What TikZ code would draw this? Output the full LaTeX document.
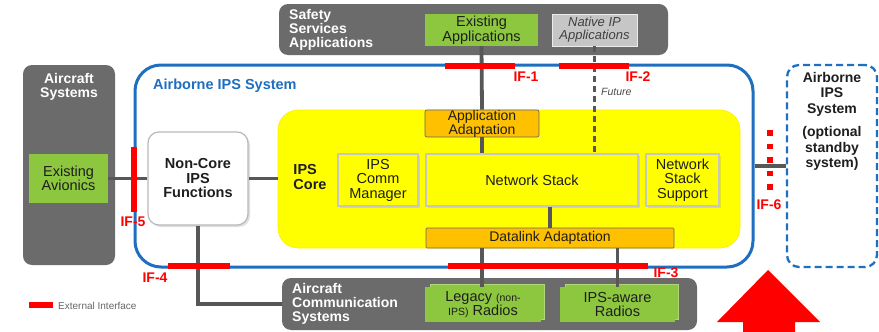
\documentclass[tikz,border=0pt]{standalone}
\usepackage{fontspec}
\setmainfont{Liberation Sans}
\usetikzlibrary{shadows}
\definecolor{sysgray}{HTML}{6B6B6B}
\definecolor{appgreen}{HTML}{8DC63F}
\definecolor{ipsblue}{HTML}{1F6FC0}
\definecolor{coreyellow}{HTML}{FFFF00}
\definecolor{adaptorange}{HTML}{FFC000}
\definecolor{ifred}{HTML}{FF0000}
\definecolor{linegray}{HTML}{575757}
\definecolor{nativegray}{HTML}{C6C6C6}
\definecolor{txtdark}{HTML}{1E1E1E}
\tikzset{
  graybox/.style={fill=sysgray, draw=none, rounded corners=9pt, inner sep=0pt},
  greenbox/.style={fill=appgreen, draw=none, inner sep=0pt, align=center, text=txtdark,
    font=\fontsize{14.5}{13.5}\selectfont},
  greenback/.style={fill=appgreen, draw=appgreen!70!white, line width=0.8pt, inner sep=0pt},
  inbox/.style={fill=coreyellow, draw=gray!45, line width=1.3pt, inner sep=0pt, align=center,
    text=txtdark, font=\fontsize{14.5}{14.5}\selectfont,
    drop shadow={opacity=0.2, shadow xshift=1.5pt, shadow yshift=-1.5pt}},
  orangebox/.style={fill=adaptorange, draw=gray!80!black, line width=0.7pt, rounded corners=2pt,
    inner sep=0pt, align=center, text=txtdark, font=\fontsize{14}{13}\selectfont},
  conn/.style={draw=linegray, line width=3.8pt},
  ifbar/.style={draw=ifred, line width=6pt},
  iflabel/.style={text=ifred, font=\bfseries\fontsize{14}{14}\selectfont, inner sep=0pt},
  whitetitle/.style={text=white, font=\bfseries\fontsize{14}{14}\selectfont, align=left, inner sep=0pt},
}
\begin{document}
\begin{tikzpicture}[x=1pt,y=-1pt]
\useasboundingbox (0,0) rectangle (879,332);
\fill[white] (0,0) rectangle (879,332);

% outer gray systems
\node[graybox, minimum width=389, minimum height=51] (safety) at (473.5,29.5) {};
\node[whitetitle, anchor=west] (safetytxt) at (289,30) {Safety\\Services\\Applications};
\node[graybox, minimum width=92, minimum height=200] (acsys) at (69,165) {};
\node[whitetitle, align=center] (acsystxt) at (69,87) {Aircraft\\Systems};
\node[graybox, minimum width=415, minimum height=52] (commsys) at (489.5,304) {};
\node[whitetitle, anchor=west] (commsystxt) at (292,304) {Aircraft\\Communication\\Systems};

% airborne IPS frame
\node[draw=ipsblue, line width=3pt, rounded corners=26pt, fill=white, minimum width=618, minimum height=202, inner sep=0pt] (ips) at (444,166) {};
\node[text=ipsblue, font=\bfseries\fontsize{14.5}{14.5}\selectfont, anchor=west, inner sep=0pt] (ipstitle) at (153,86) {Airborne IPS System};

% standby
\node[draw=ipsblue, line width=2.3pt, dash pattern=on 7pt off 4pt, rounded corners=12pt, fill=white, minimum width=90, minimum height=202, inner sep=0pt] (standby) at (832,166) {};
\node[text=txtdark, font=\bfseries\fontsize{14}{15.5}\selectfont, align=center, anchor=north, inner sep=0pt] (standbytxt) at (832,72) {Airborne\\IPS\\System\\[8pt](optional\\standby\\system)};

% apps
\node[greenbox, minimum width=113, minimum height=32] (exapp) at (481.5,30) {Existing\\Applications};
\node[fill=nativegray, draw=white!85!gray, line width=0.8pt, minimum width=85, minimum height=32, inner sep=0pt, align=center, text=txtdark!85, font=\itshape\fontsize{13}{13}\selectfont] (native) at (594.5,30) {Native IP\\Applications};

% core
\node[fill=coreyellow, draw=coreyellow!85!orange, line width=0.6pt, rounded corners=20pt, minimum width=462, minimum height=138, inner sep=0pt] (core) at (509,179) {};
\node[text=txtdark, font=\bfseries\fontsize{14.5}{14.5}\selectfont, align=left, inner sep=0pt] (coretxt) at (310,177) {IPS\\Core};
\node[orangebox, minimum width=114, minimum height=27] (appadapt) at (482,123.5) {Application\\Adaptation};
\node[inbox, minimum width=80, minimum height=52] (commmgr) at (378,180) {IPS\\Comm\\Manager};
\node[inbox, minimum width=212, minimum height=52] (netstack) at (532,180) {Network Stack};
\node[inbox, minimum width=73, minimum height=52] (nss) at (682.5,180) {Network\\Stack\\Support};
\node[orangebox, rounded corners=1pt, minimum width=248, minimum height=20] (datalink) at (550,238) {Datalink Adaptation};

% non-core and avionics
\node[fill=white, draw=gray!55, line width=1.2pt, rounded corners=11pt, minimum width=100, minimum height=93, inner sep=0pt, align=center, text=txtdark, font=\bfseries\fontsize{14.5}{14.5}\selectfont, drop shadow={opacity=0.25, shadow xshift=2pt, shadow yshift=-2pt}] (noncore) at (198,178.5) {Non-Core\\IPS\\Functions};
\node[greenbox, minimum width=79, minimum height=49] (avionics) at (68.5,178.5) {Existing\\Avionics};

% radios
\node[greenback, minimum width=114, minimum height=35] (legacyback) at (487,301.5) {};
\node[greenbox, minimum width=116, minimum height=35] (legacy) at (483,304.5) {Legacy {\fontsize{10.5}{10}\selectfont(non-}\\{\fontsize{10.5}{10}\selectfont IPS)} Radios};
\node[greenback, minimum width=113, minimum height=35] (ipsawareback) at (621.5,301.5) {};
\node[greenbox, minimum width=115, minimum height=35] (ipsaware) at (617.5,304.5) {IPS-aware\\Radios};

% connectors
\draw[conn] (exapp.south) -- (appadapt.north);
\draw[conn] (appadapt.south) -- (appadapt.south |- netstack.north);
\draw[draw=linegray, line width=2.6pt, dash pattern=on 6pt off 4pt] (native.south) -- (native.south |- netstack.north);
\draw[conn] ([xshift=18pt]netstack.south) -- ([xshift=18pt]netstack.south |- datalink.north);
\draw[conn] (legacy.north -| 482,0) -- (datalink.south -| 482,0);
\draw[conn] (ipsaware.north) -- (ipsaware.north |- datalink.south);
\draw[conn] (avionics.east) -- (noncore.west);
\draw[conn] (noncore.east) -- (noncore.east -| core.west);
\draw[conn] (noncore.south) -- (noncore.south |- commsys.west) -- (commsys.west);
\draw[conn] (ips.east) -- (standby.west);

% external interfaces
\draw[ifbar] (445,65.5) -- (515,65.5);
\draw[ifbar] (559,65.5) -- (629,65.5);
\draw[ifbar] (448,266) -- (648,266);
\draw[ifbar] (168,266) -- (230,266);
\draw[ifbar] (133.5,147) -- (133.5,212);
\draw[draw=ifred, line width=5.5pt, dash pattern=on 5.5pt off 8pt] (770,130) -- (770,193);

\node[iflabel] (if1) at (526,77) {IF-1};
\node[iflabel] (if2) at (638,77) {IF-2};
\node[iflabel] (if3) at (666,273) {IF-3};
\node[iflabel] (if4) at (155,278) {IF-4};
\node[iflabel] (if5) at (133,222) {IF-5};
\node[iflabel] (if6) at (769,205) {IF-6};
\node[text=txtdark!80, font=\itshape\fontsize{10.5}{10.5}\selectfont, anchor=west, inner sep=0pt] (future) at (601,92) {Future};

% legend
\draw[ifbar] (29,305) -- (53,305);
\node[text=gray!80!black, font=\fontsize{10}{10}\selectfont, anchor=west, inner sep=0pt] (legendtxt) at (58,306) {External Interface};

% red arrow
\fill[ifred] (768,270) -- (820,322) -- (795,322) -- (795,332) -- (743,332) -- (743,322) -- (717,322) -- cycle;
\end{tikzpicture}
\end{document}
